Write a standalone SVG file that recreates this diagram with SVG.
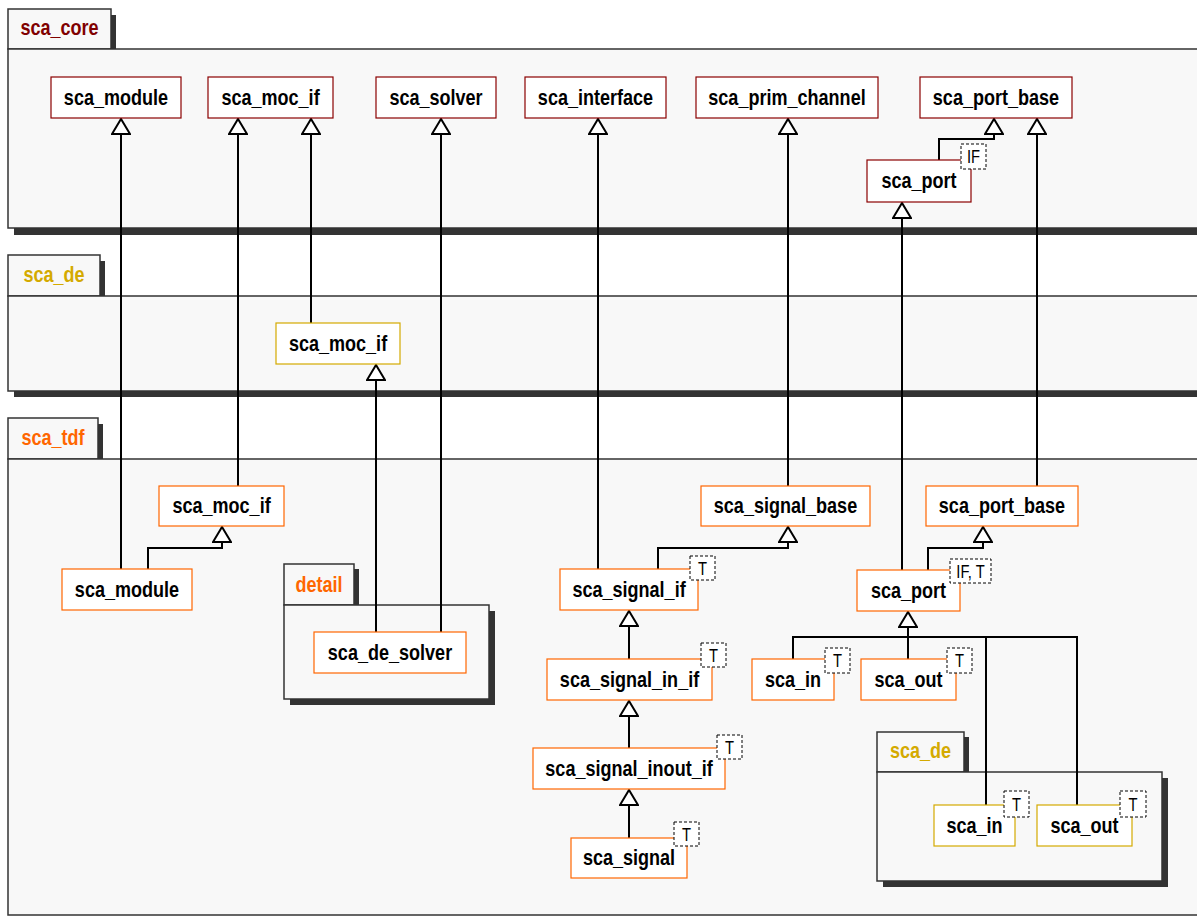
<svg xmlns="http://www.w3.org/2000/svg" width="1197" height="916" viewBox="0 0 1197 916">
<defs>
<style>
.pk{fill:#f8f8f8;stroke:#333;stroke-width:1.5}
.sh{fill:#333;stroke:none}
.pl,.nt,.tt{font-family:"Liberation Sans",Arial,sans-serif;text-anchor:middle;transform-box:fill-box;transform-origin:center;transform:scaleX(0.82)}
.pl{font-weight:bold;font-size:22px}
.nd{fill:#fff;stroke-width:1.2}
.core{stroke:#8b0000}
.de{stroke:#d4aa00}
.tdf{stroke:#ff6600}
.nt{font-weight:bold;font-size:22px;fill:#000}
.tp{fill:#fff;stroke:#000;stroke-width:1;stroke-dasharray:3,2}
.tt{font-size:18px;fill:#000}
.cn{fill:none;stroke:#000;stroke-width:2}
</style>
<marker id="tri" markerWidth="22" markerHeight="20" refX="1" refY="9" orient="auto" markerUnits="userSpaceOnUse" viewBox="-1 -1 22 20">
<path d="M0,0 L15,9 L0,18 Z" fill="#fff" stroke="#000" stroke-width="2"/>
</marker>
</defs>

<!-- packages -->
<g id="pkg_sca_core">
<rect class="sh" x="13" y="15" width="103" height="40"/>
<rect class="pk" x="8" y="9" width="103" height="40"/>
<rect class="sh" x="14" y="55" width="1200" height="180"/>
<rect class="pk" x="8" y="49" width="1200" height="179"/>
<text class="pl" x="59.5" y="35" fill="#800000">sca_core</text>
</g>
<g id="pkg_sca_de">
<rect class="sh" x="13" y="261" width="92" height="41"/>
<rect class="pk" x="8" y="255" width="92" height="41"/>
<rect class="sh" x="14" y="302" width="1200" height="95"/>
<rect class="pk" x="8" y="296" width="1200" height="95"/>
<text class="pl" x="54" y="282" fill="#d4aa00">sca_de</text>
</g>
<g id="pkg_sca_tdf">
<rect class="sh" x="13" y="424" width="90" height="41"/>
<rect class="pk" x="8" y="418" width="90" height="41"/>
<rect class="pk" x="8" y="459" width="1200" height="456"/>
<text class="pl" x="53" y="445" fill="#ff6600">sca_tdf</text>
</g>
<g id="pkg_detail">
<rect class="sh" x="289" y="569" width="70" height="41"/>
<rect class="pk" x="284" y="564" width="70" height="41"/>
<rect class="sh" x="290" y="611" width="205" height="94"/>
<rect class="pk" x="284" y="605" width="205" height="94"/>
<text class="pl" x="319" y="592" fill="#ff6600">detail</text>
</g>
<g id="pkg_sca_de_inner">
<rect class="sh" x="882" y="737" width="87" height="40"/>
<rect class="pk" x="877" y="732" width="87" height="40"/>
<rect class="sh" x="883" y="778" width="285" height="109"/>
<rect class="pk" x="877" y="772" width="285" height="109"/>
<text class="pl" x="920.5" y="758" fill="#d4aa00">sca_de</text>
</g>

<!-- connectors -->
<g id="connectors">
<path class="cn" d="M121,569 V133" marker-end="url(#tri)"/>
<path class="cn" d="M238,486 V133" marker-end="url(#tri)"/>
<path class="cn" d="M311,323 V133" marker-end="url(#tri)"/>
<path class="cn" d="M441,632 V133" marker-end="url(#tri)"/>
<path class="cn" d="M376,632 V379" marker-end="url(#tri)"/>
<path class="cn" d="M598,569 V133" marker-end="url(#tri)"/>
<path class="cn" d="M788,486 V133" marker-end="url(#tri)"/>
<path class="cn" d="M902,570 V217" marker-end="url(#tri)"/>
<path class="cn" d="M1037,486 V133" marker-end="url(#tri)"/>
<path class="cn" d="M939,160 V139 H994 V133" marker-end="url(#tri)"/>
<path class="cn" d="M148,569 V548 H222 V541" marker-end="url(#tri)"/>
<path class="cn" d="M658,569 V548 H788 V541" marker-end="url(#tri)"/>
<path class="cn" d="M629,659 V625" marker-end="url(#tri)"/>
<path class="cn" d="M629,748 V715" marker-end="url(#tri)"/>
<path class="cn" d="M629,838 V804" marker-end="url(#tri)"/>
<path class="cn" d="M928,570 V548 H983 V541" marker-end="url(#tri)"/>
<path class="cn" d="M908,659 V626" marker-end="url(#tri)"/>
<path class="cn" d="M793,659 V637 H1077 V805"/>
<path class="cn" d="M986,637 V805"/>
</g>

<!-- sca_core nodes -->
<g id="core_sca_module"><rect class="nd core" x="51" y="77" width="130" height="41"/><text class="nt" x="116" y="105">sca_module</text></g>
<g id="core_sca_moc_if"><rect class="nd core" x="208" y="77" width="125" height="41"/><text class="nt" x="270.5" y="105">sca_moc_if</text></g>
<g id="core_sca_solver"><rect class="nd core" x="376" y="77" width="120" height="41"/><text class="nt" x="436" y="105">sca_solver</text></g>
<g id="core_sca_interface"><rect class="nd core" x="525" y="77" width="141" height="41"/><text class="nt" x="595.5" y="105">sca_interface</text></g>
<g id="core_sca_prim_channel"><rect class="nd core" x="696" y="77" width="182" height="41"/><text class="nt" x="787" y="105">sca_prim_channel</text></g>
<g id="core_sca_port_base"><rect class="nd core" x="920" y="77" width="152" height="41"/><text class="nt" x="996" y="105">sca_port_base</text></g>
<g id="core_sca_port"><rect class="nd core" x="867" y="160" width="104" height="42"/><text class="nt" x="919" y="188">sca_port</text><rect class="tp" x="961" y="144" width="25" height="25"/><text class="tt" x="973.5" y="163">IF</text></g>

<!-- sca_de nodes -->
<g id="de_sca_moc_if"><rect class="nd de" x="276" y="323" width="124" height="41"/><text class="nt" x="338" y="351">sca_moc_if</text></g>

<!-- sca_tdf nodes -->
<g id="tdf_sca_moc_if"><rect class="nd tdf" x="159" y="486" width="125" height="40"/><text class="nt" x="221.5" y="513">sca_moc_if</text></g>
<g id="tdf_sca_module"><rect class="nd tdf" x="62" y="569" width="130" height="41"/><text class="nt" x="127" y="597">sca_module</text></g>
<g id="tdf_sca_de_solver"><rect class="nd tdf" x="314" y="632" width="152" height="41"/><text class="nt" x="390" y="660">sca_de_solver</text></g>
<g id="tdf_sca_signal_base"><rect class="nd tdf" x="701" y="486" width="169" height="40"/><text class="nt" x="785.5" y="513">sca_signal_base</text></g>
<g id="tdf_sca_port_base"><rect class="nd tdf" x="926" y="486" width="152" height="40"/><text class="nt" x="1002" y="513">sca_port_base</text></g>
<g id="tdf_sca_signal_if"><rect class="nd tdf" x="560" y="569" width="138" height="41"/><text class="nt" x="629" y="597">sca_signal_if</text><rect class="tp" x="690" y="556" width="25" height="24"/><text class="tt" x="702.5" y="575">T</text></g>
<g id="tdf_sca_signal_in_if"><rect class="nd tdf" x="547" y="659" width="165" height="41"/><text class="nt" x="629.5" y="687">sca_signal_in_if</text><rect class="tp" x="701" y="643" width="25" height="24"/><text class="tt" x="713.5" y="662">T</text></g>
<g id="tdf_sca_signal_inout_if"><rect class="nd tdf" x="533" y="748" width="192" height="41"/><text class="nt" x="629" y="776">sca_signal_inout_if</text><rect class="tp" x="717" y="735" width="25" height="24"/><text class="tt" x="729.5" y="754">T</text></g>
<g id="tdf_sca_signal"><rect class="nd tdf" x="571" y="838" width="116" height="40"/><text class="nt" x="629" y="865">sca_signal</text><rect class="tp" x="674" y="822" width="25" height="24"/><text class="tt" x="686.5" y="841">T</text></g>
<g id="tdf_sca_port"><rect class="nd tdf" x="857" y="570" width="103" height="41"/><text class="nt" x="908.5" y="598">sca_port</text><rect class="tp" x="950" y="559" width="41" height="24"/><text class="tt" x="970.5" y="578">IF, T</text></g>
<g id="tdf_sca_in"><rect class="nd tdf" x="752" y="659" width="82" height="41"/><text class="nt" x="793" y="687">sca_in</text><rect class="tp" x="825" y="648" width="25" height="25"/><text class="tt" x="837.5" y="667">T</text></g>
<g id="tdf_sca_out"><rect class="nd tdf" x="861" y="659" width="95" height="41"/><text class="nt" x="908.5" y="687">sca_out</text><rect class="tp" x="947" y="648" width="25" height="25"/><text class="tt" x="959.5" y="667">T</text></g>

<!-- sca_tdf::sca_de nodes -->
<g id="tdf_de_sca_in"><rect class="nd de" x="934" y="805" width="81" height="41"/><text class="nt" x="974.5" y="833">sca_in</text><rect class="tp" x="1004" y="791" width="25" height="26"/><text class="tt" x="1016.5" y="811">T</text></g>
<g id="tdf_de_sca_out"><rect class="nd de" x="1037" y="805" width="95" height="41"/><text class="nt" x="1084.5" y="833">sca_out</text><rect class="tp" x="1120" y="791" width="26" height="26"/><text class="tt" x="1133" y="811">T</text></g>
</svg>
